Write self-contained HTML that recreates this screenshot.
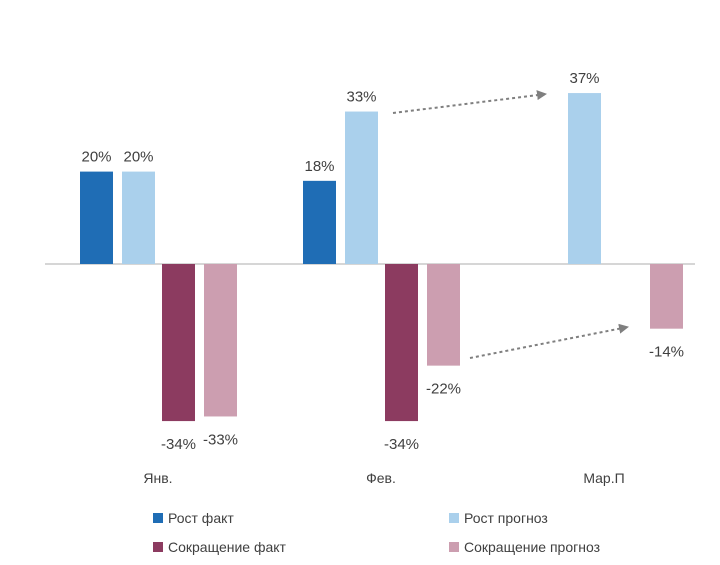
<!DOCTYPE html>
<html><head><meta charset="utf-8">
<style>
html,body{margin:0;padding:0;background:#fff;}
svg{display:block;font-family:"Liberation Sans",sans-serif;}
</style></head>
<body>
<svg id="chart" width="720" height="565" viewBox="0 0 720 565">
<defs>
<marker id="ah" markerWidth="10" markerHeight="10" refX="9" refY="5" orient="auto" markerUnits="userSpaceOnUse">
<path d="M0,0 L10,5 L0,10 z" fill="#7f7f7f"/>
</marker>
</defs>
<line x1="45" y1="264" x2="695" y2="264" stroke="#c8c8c8" stroke-width="1.5"/>
<g id="bars"></g>
<line x1="393" y1="113" x2="546" y2="94" stroke="#7f7f7f" stroke-width="2" stroke-dasharray="3,3" marker-end="url(#ah)"/>
<line x1="470" y1="358" x2="628" y2="327" stroke="#7f7f7f" stroke-width="2" stroke-dasharray="3,3" marker-end="url(#ah)"/>
<g id="legend" font-size="14" fill="#404040">
<g><rect x="153" y="513" width="10" height="10" fill="#1f6db5"/><text x="168" y="523">Рост факт</text></g>
<g><rect x="449" y="513" width="10" height="10" fill="#aad0ec"/><text x="464" y="523">Рост прогноз</text></g>
<g><rect x="153" y="542" width="10" height="10" fill="#8c3b60"/><text x="168" y="552">Сокращение факт</text></g>
<g><rect x="449" y="542" width="10" height="10" fill="#cc9eb0"/><text x="464" y="552">Сокращение прогноз</text></g>
</g>
</svg>
<script>
const categories = ["Янв.", "Фев.", "Мар.П"];
const growthFact = [20, 18, null];
const growthForecast = [20, 33, 37];
const declineFact = [-34, -34, null];
const declineForecast = [-33, -22, -14];

const NS = "http://www.w3.org/2000/svg";
const baseY = 264, pxPer = 4.62;
function yScale(v){ return baseY - v*pxPer; }
function xGroup(i){ return 80 + i*223; }
const series = [
  {vals: growthFact, off: 0, color: "#1f6db5", name: "growth-fact"},
  {vals: growthForecast, off: 42, color: "#aad0ec", name: "growth-forecast"},
  {vals: declineFact, off: 82, color: "#8c3b60", name: "decline-fact"},
  {vals: declineForecast, off: 124, color: "#cc9eb0", name: "decline-forecast"}
];
const g = document.getElementById("bars");
const bw = 33;
series.forEach(s => {
  s.vals.forEach((v, i) => {
    if (v === null) return;
    const x = xGroup(i) + s.off;
    const y0 = yScale(Math.max(v,0)), y1 = yScale(Math.min(v,0));
    const r = document.createElementNS(NS, "rect");
    r.setAttribute("x", x); r.setAttribute("y", y0);
    r.setAttribute("width", bw); r.setAttribute("height", y1 - y0);
    r.setAttribute("fill", s.color);
    
    
    g.appendChild(r);
    const t = document.createElementNS(NS, "text");
    t.setAttribute("x", x + bw/2);
    t.setAttribute("y", v >= 0 ? y0 - 10 : y1 + 28);
    t.setAttribute("text-anchor", "middle");
    t.setAttribute("font-size", "15");
    t.setAttribute("fill", "#404040");
    t.textContent = v + "%";
    
    
    g.appendChild(t);
  });
});
categories.forEach((c, i) => {
  const t = document.createElementNS(NS, "text");
  t.setAttribute("x", xGroup(i) + 78);
  t.setAttribute("y", 483);
  t.setAttribute("text-anchor", "middle");
  t.setAttribute("font-size", "14");
  t.setAttribute("fill", "#404040");
  t.textContent = c;
  
  
  g.appendChild(t);
});
</script>
</body></html>
